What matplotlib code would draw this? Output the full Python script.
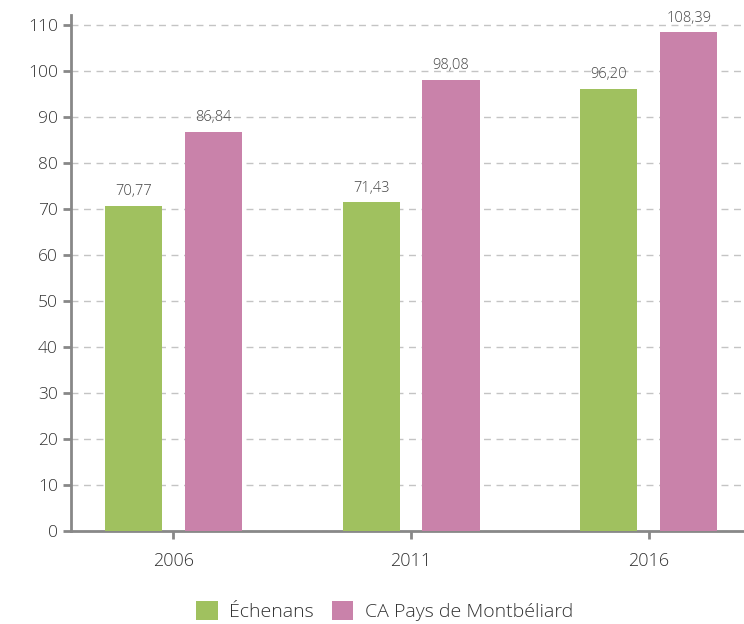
import numpy as np
import matplotlib.pyplot as plt

plt.rcParams['font.family'] = ['Open Sans', 'DejaVu Sans']
plt.rcParams['font.weight'] = 'light'

years = ['2006', '2011', '2016']
echenans = [70.77, 71.43, 96.20]
ca_pays = [86.84, 98.08, 108.39]
series_names = ['Échenans', 'CA Pays de Montbéliard']
colors = ['#a0c15f', '#c982aa']

fig = plt.figure(figsize=(7.44, 6.24), dpi=100)
ax = fig.add_axes([0.0954, 0.149, 0.9046, 0.827])

x = np.arange(len(years))
width = 0.24
off = 0.168
b1 = ax.bar(x - off, echenans, width, color=colors[0], label=series_names[0], zorder=3)
b2 = ax.bar(x + off, ca_pays, width, color=colors[1], label=series_names[1], zorder=3)

for bars, vals in [(b1, echenans), (b2, ca_pays)]:
    for rect, v in zip(bars, vals):
        ax.annotate(f'{v:.2f}'.replace('.', ','),
                    xy=(rect.get_x() + rect.get_width() / 2, v),
                    xytext=(0, 5), textcoords='offset points',
                    ha='center', va='bottom', fontsize=10.5, color='#444444')

ax.set_xlim(-0.43, 2.40)
ax.set_ylim(0, 112.2)
ax.set_yticks(np.arange(0, 111, 10))
ax.set_xticks(x)
ax.set_xticklabels(years)
ax.yaxis.grid(True, linestyle=(0, (5, 4)), color='#c4c4c4', linewidth=1, zorder=0)

for s in ['top', 'right']:
    ax.spines[s].set_visible(False)
for s in ['left', 'bottom']:
    ax.spines[s].set_color('#888888')
    ax.spines[s].set_linewidth(2)
ax.tick_params(axis='both', colors='#888888', width=2, length=6, labelcolor='#333333')
ax.tick_params(axis='y', labelsize=12.5)
ax.tick_params(axis='x', labelsize=13, pad=9)

fig.legend(loc='center', bbox_to_anchor=(0.517, 0.021), ncol=2, frameon=False,
           fontsize=14, handlelength=1.1, handleheight=1.1, handletextpad=0.6,
           columnspacing=0.9, labelcolor='#333333')

fig.savefig('out.png', dpi=100)
